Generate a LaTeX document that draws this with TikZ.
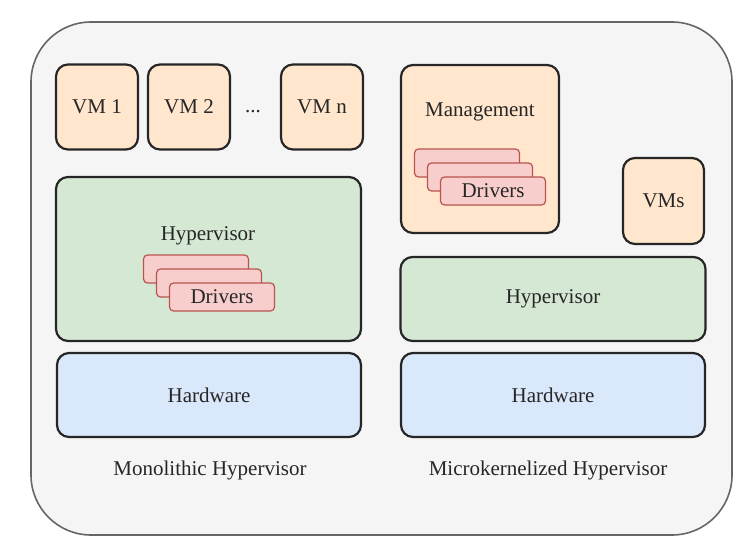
\documentclass[tikz,border=0pt]{standalone}
\usepackage{fontspec}
\setmainfont{Liberation Serif}
\usetikzlibrary{positioning}
\definecolor{vmpeach}{HTML}{FFE6CC}
\definecolor{hvgreen}{HTML}{D5E8D4}
\definecolor{hwblue}{HTML}{DAE8FC}
\definecolor{drvpink}{HTML}{F8CECC}
\definecolor{drvline}{HTML}{B85450}
\definecolor{framegray}{HTML}{F5F5F5}

\begin{document}
\begin{tikzpicture}[
  x=0.5pt,y=-0.5pt,
  font=\fontsize{10.5}{12}\selectfont,
  text=black!85,
  layer/.style={draw=black!85,line width=1.1pt,rounded corners=6pt,inner sep=0pt},
  vmbox/.style={layer,fill=vmpeach,minimum width=41pt,minimum height=42.5pt},
  hvbox/.style={layer,fill=hvgreen,minimum width=152.5pt},
  hwbox/.style={layer,fill=hwblue,minimum width=152pt,minimum height=42pt},
  drv/.style={draw=drvline,fill=drvpink,line width=0.6pt,rounded corners=2pt,
    inner sep=0pt,minimum width=52.5pt,minimum height=14pt},
  caption/.style={inner sep=0pt}
]
  \useasboundingbox (0,0) rectangle (749,556);
  \node[draw=black!60,fill=framegray,line width=0.8pt,rounded corners=30pt,
    minimum width=350.5pt,minimum height=256.5pt] (frame) at (381.5,278.5) {};

  % monolithic
  \node[vmbox] (vm1) at (97,107) {VM 1};
  \node[vmbox] (vm2) at (189,107) {VM 2};
  \node[inner sep=0pt] (dots) at (253,112) {...};
  \node[vmbox] (vmn) at (322,107) {VM n};
  \node[hvbox,minimum height=82pt] (monohv) at (208.5,259) {};
  \node[caption] (monohvtext) at (208,236) {Hypervisor};
  \node[drv] (mdrv1) at (196,269) {};
  \node[drv] (mdrv2) at (209,283) {};
  \node[drv] (mdrv3) at (222,297) {Drivers};
  \node[hwbox] (monohw) at (209,395) {Hardware};
  \node[caption] (monocap) at (210,470) {Monolithic Hypervisor};

  % microkernelized
  \node[layer,fill=vmpeach,minimum width=79pt,minimum height=84pt] (mgmt) at (480,149) {};
  \node[caption] (mgmttext) at (480,112) {Management};
  \node[drv] (kdrv1) at (467,163) {};
  \node[drv] (kdrv2) at (480,177) {};
  \node[drv] (kdrv3) at (493,191) {Drivers};
  \node[layer,fill=vmpeach,minimum width=40.5pt,minimum height=43pt] (vms) at (663.5,201) {VMs};
  \node[hvbox,minimum height=42pt] (microhv) at (553,299) {Hypervisor};
  \node[hwbox] (microhw) at (553,395) {Hardware};
  \node[caption] (microcap) at (548,470) {Microkernelized Hypervisor};
\end{tikzpicture}
\end{document}
